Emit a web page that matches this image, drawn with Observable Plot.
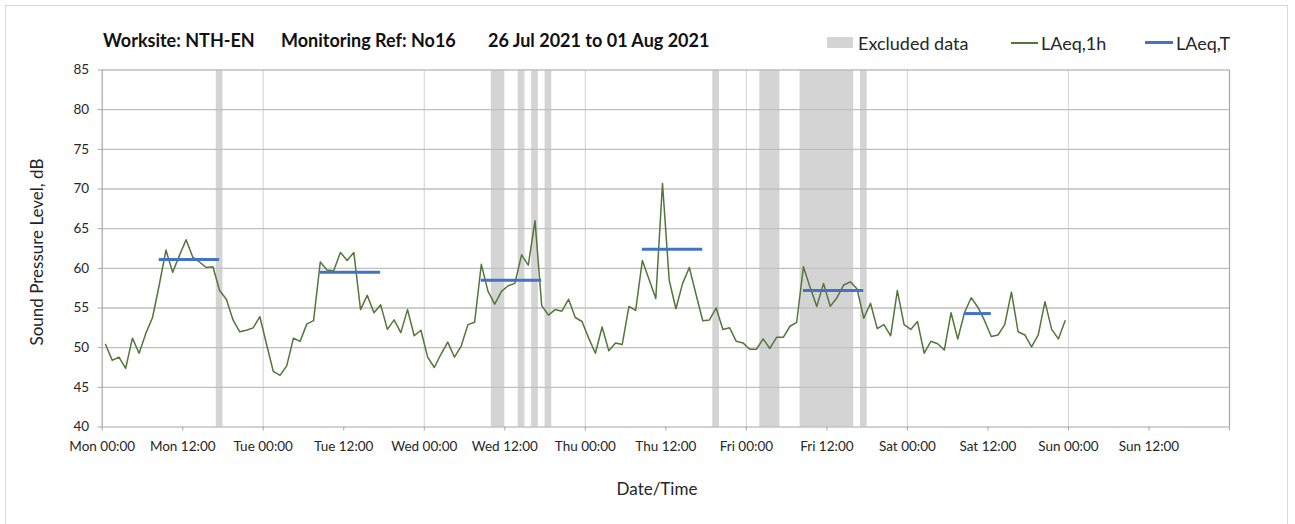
<!DOCTYPE html>
<html>
<head>
<meta charset="utf-8">
<script src="https://cdn.jsdelivr.net/npm/d3@7"></script>
<script src="https://cdn.jsdelivr.net/npm/@observablehq/plot@0.6"></script>
<style>
  body { margin: 0; background: #fff; font-family: Lato, "Open Sans", sans-serif; }
  #wrap { position: relative; width: 1295px; height: 524px; overflow: hidden; }
  #border { position: absolute; left: 5px; top: 5px; width: 1283px; height: 560px; border: 1px solid #d9d9d9; box-sizing: border-box; }
  #chart { position: absolute; left: 0; top: 0; }
  .title { position: absolute; top: 29px; font-weight: bold; font-size: 18px; color: #111; white-space: nowrap; line-height: 22px; }
  .leg { position: absolute; top: 32px; font-size: 18px; color: #262626; white-space: nowrap; line-height: 22px; }
  .swatch { position: absolute; }
  .axt { position: absolute; font-size: 17px; color: #262626; white-space: nowrap; line-height: 20px; }
</style>
</head>
<body>
<div id="wrap">
  <div id="border"></div>
  <div id="chart"></div>
  <div class="title" style="left:103px">Worksite: NTH-EN</div>
  <div class="title" style="left:281px">Monitoring Ref: No16</div>
  <div class="title" style="left:488px">26 Jul 2021 to 01 Aug 2021</div>
  <div class="swatch" style="left:827px;top:37px;width:26px;height:11px;background:#d4d4d4"></div>
  <div class="leg" style="left:858px">Excluded data</div>
  <div class="swatch" style="left:1011px;top:42px;width:27px;height:1.5px;background:#52773a"></div>
  <div class="leg" style="left:1041px">LAeq,1h</div>
  <div class="swatch" style="left:1145px;top:41px;width:28px;height:3px;background:#4472c4"></div>
  <div class="leg" style="left:1176px">LAeq,T</div>
  <div class="axt" style="left:37px;top:252px;transform:translate(-50%,-50%) rotate(-90deg)">Sound Pressure Level, dB</div>
  <div class="axt" style="left:657px;top:489px;transform:translate(-50%,-50%)">Date/Time</div>
</div>
<script>
// Hourly LAeq,1h values, Mon 00:00 onwards (one per hour)
const laeq1h = [
  50.4, 48.4, 48.8, 47.4, 51.2, 49.3, 51.8, 53.8, 57.9, 62.3, 59.5, 61.6,
  63.6, 61.4, 60.8, 60.1, 60.2, 57.2, 56.1, 53.5, 52.0, 52.2, 52.5, 53.9,
  50.4, 47.0, 46.5, 47.7, 51.2, 50.8, 53.0, 53.4, 60.8, 59.8, 59.7, 62.0,
  61.0, 62.0, 54.8, 56.6, 54.4, 55.4, 52.3, 53.5, 51.9, 54.8, 51.5, 52.2,
  48.8, 47.5, 49.2, 50.7, 48.8, 50.2, 52.9, 53.2, 60.5, 57.1, 55.5, 57.1,
  57.8, 58.1, 61.7, 60.4, 66.0, 55.3, 54.1, 54.8, 54.6, 56.1, 53.8, 53.3,
  51.2, 49.3, 52.6, 49.6, 50.6, 50.4, 55.2, 54.7, 61.0, 58.6, 56.2, 70.7,
  58.5, 54.9, 58.1, 60.1, 56.7, 53.4, 53.5, 55.0, 52.3, 52.5, 50.8, 50.6,
  49.8, 49.8, 51.1, 49.9, 51.3, 51.3, 52.7, 53.2, 60.2, 57.6, 55.2, 58.1,
  55.2, 56.3, 57.9, 58.3, 57.4, 53.7, 55.6, 52.4, 52.9, 51.5, 57.2, 52.9,
  52.3, 53.3, 49.3, 50.8, 50.5, 49.7, 54.4, 51.1, 54.4, 56.3, 55.1, 53.4,
  51.4, 51.6, 52.9, 57.0, 52.0, 51.6, 50.1, 51.6, 55.8, 52.3, 51.1, 53.4
];

// Excluded data periods (hours from Mon 00:00)
const excludedStart = [17, 58, 62, 64, 66, 91, 98, 104, 113];
const excludedEnd   = [18, 60, 63, 65, 67, 92, 101, 112, 114];

// LAeq,T daytime periods (hours from Mon 00:00) and levels
const laeqTStart = [8.5, 32.5, 56.5, 80.5, 104.5, 128.5];
const laeqTEnd   = [17.5, 41.5, 65.5, 89.5, 113.5, 132.5];
const laeqTValue = [61.1, 59.5, 58.5, 62.4, 57.2, 54.3];

// Axis ticks
const xTickHours = [0, 12, 24, 36, 48, 60, 72, 84, 96, 108, 120, 132, 144, 156, 168];
const xTickLabels = ["Mon 00:00", "Mon 12:00", "Tue 00:00", "Tue 12:00", "Wed 00:00", "Wed 12:00",
  "Thu 00:00", "Thu 12:00", "Fri 00:00", "Fri 12:00", "Sat 00:00", "Sat 12:00", "Sun 00:00", "Sun 12:00", ""];
const dayGridHours = [24, 48, 72, 96, 120, 144];
const yTicks = [40, 45, 50, 55, 60, 65, 70, 75, 80, 85];

// Tables built from the arrays
const hourly = laeq1h.map((v, i) => ({t: i + 0.5, v}));
const excluded = excludedStart.map((s, i) => ({start: s, end: excludedEnd[i]}));
const laeqT = laeqTStart.map((s, i) => ({start: s, end: laeqTEnd[i], value: laeqTValue[i]}));

const chart = Plot.plot({
  width: 1295,
  height: 524,
  marginTop: 69.5,
  marginBottom: 97.5,
  marginLeft: 101.7,
  marginRight: 66,
  style: {fontFamily: "Lato, 'Open Sans', sans-serif", fontSize: "13.5px", color: "#262626", background: "transparent"},
  x: {domain: [0, 168]},
  y: {domain: [40, 85]},
  marks: [
    Plot.rect(excluded, {x1: "start", x2: "end", fill: "#d4d4d4"}),
    Plot.ruleX(dayGridHours, {stroke: "#d9d9d9", strokeWidth: 1.2}),
    Plot.ruleY(yTicks.slice(1), {stroke: "#bfbfbf", strokeWidth: 1.3}),
    Plot.ruleX([168], {stroke: "#a6a6a6", strokeWidth: 1.2}),
    Plot.ruleX([0], {stroke: "#a6a6a6", strokeWidth: 1.2}),
    Plot.ruleY([40], {stroke: "#a6a6a6", strokeWidth: 1.2}),
    Plot.axisY({ticks: yTicks, tickSize: 4, tickPadding: 9, label: null, stroke: "#a6a6a6"}),
    Plot.axisX({ticks: xTickHours, tickFormat: (d) => xTickLabels[xTickHours.indexOf(d)], tickSize: 4, tickPadding: 10, label: null, stroke: "#a6a6a6"}),
    Plot.line(hourly, {x: "t", y: "v", stroke: "#52773a", strokeWidth: 1.5}),
    Plot.ruleY(laeqT, {x1: "start", x2: "end", y: "value", stroke: "#4472c4", strokeWidth: 3})
  ]
});
document.getElementById("chart").appendChild(chart);
</script>
</body>
</html>
